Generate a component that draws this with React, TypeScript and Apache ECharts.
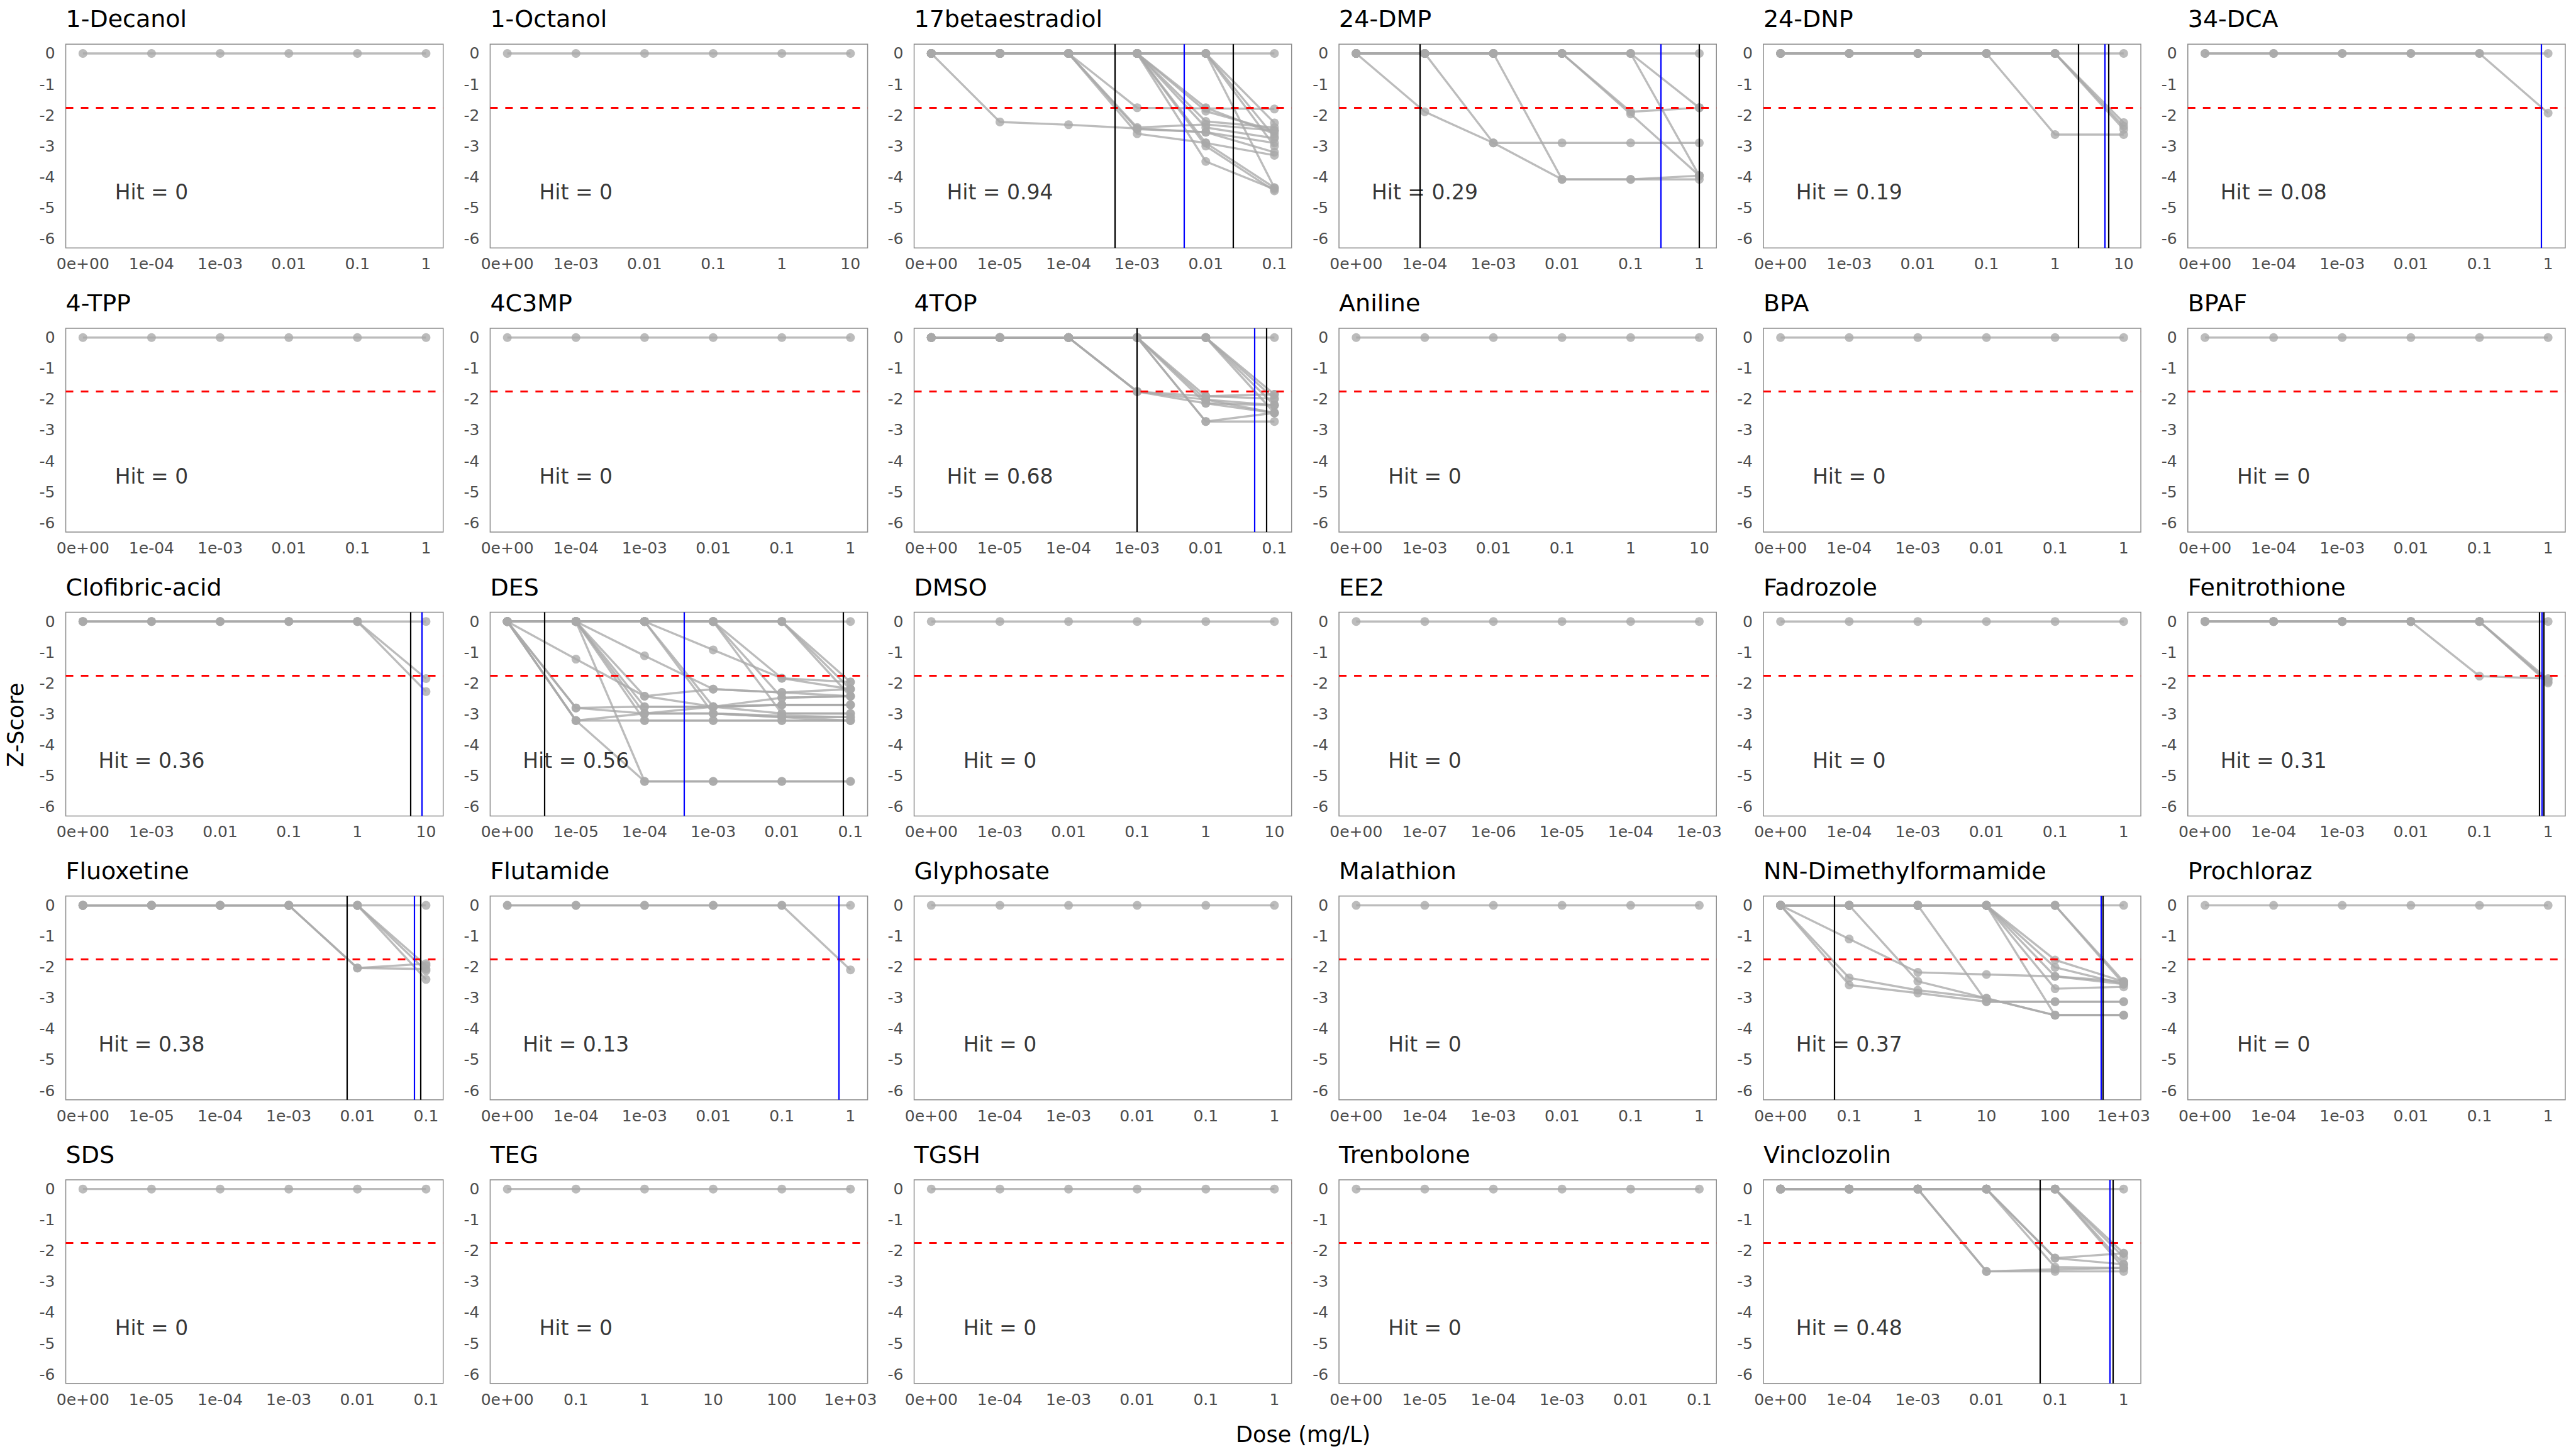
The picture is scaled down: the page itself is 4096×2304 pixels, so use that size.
import React, { useEffect, useRef } from "react";
import * as echarts from "echarts";

// ---------- tick label sets (dose axis, mg/L) ----------
const ticksA = ["0e+00", "1e-04", "1e-03", "0.01", "0.1", "1"];
const ticksB = ["0e+00", "1e-03", "0.01", "0.1", "1", "10"];
const ticksC = ["0e+00", "1e-05", "1e-04", "1e-03", "0.01", "0.1"];
const ticksD = ["0e+00", "1e-07", "1e-06", "1e-05", "1e-04", "1e-03"];
const ticksE = ["0e+00", "0.1", "1", "10", "100", "1e+03"];
const yTicks = [0, -1, -2, -3, -4, -5, -6];

// ---------- panels ----------
const chemicals = [
  "1-Decanol", "1-Octanol", "17betaestradiol", "24-DMP", "24-DNP", "34-DCA",
  "4-TPP", "4C3MP", "4TOP", "Aniline", "BPA", "BPAF",
  "Clofibric-acid", "DES", "DMSO", "EE2", "Fadrozole", "Fenitrothione",
  "Fluoxetine", "Flutamide", "Glyphosate", "Malathion", "NN-Dimethylformamide", "Prochloraz",
  "SDS", "TEG", "TGSH", "Trenbolone", "Vinclozolin",
];
const chemicalTicks = [
  ticksA, ticksB, ticksC, ticksA, ticksB, ticksA,
  ticksA, ticksA, ticksC, ticksB, ticksA, ticksA,
  ticksB, ticksC, ticksB, ticksD, ticksA, ticksA,
  ticksC, ticksA, ticksA, ticksA, ticksE, ticksA,
  ticksC, ticksE, ticksA, ticksC, ticksA,
];
const hitRates = [
  "0", "0", "0.94", "0.29", "0.19", "0.08",
  "0", "0", "0.68", "0", "0", "0",
  "0.36", "0.56", "0", "0", "0", "0.31",
  "0.38", "0.13", "0", "0", "0.37", "0",
  "0", "0", "0", "0", "0.48",
];
const zThreshold = -1.75;

// black lines (BMD lower / upper), dose in mg/L
const boundDoses: number[][] = [
  [], [], [4.8e-4, 0.025], [8.5e-5, 1], [2.2, 6.0], [],
  [], [], [1e-3, 0.075], [], [], [],
  [5.9], [3.5e-6, 0.078], [], [], [], [0.74, 0.87],
  [7.1e-3, 0.084], [], [], [], [0.06, 500], [],
  [], [], [], [], [0.06, 0.69],
];
// blue line (BMD), dose in mg/L
const bmdDoses: (number | null)[] = [
  null, null, 4.8e-3, 0.275, 5.2, 0.8,
  null, null, 0.051, null, null, null,
  8.7, 3.8e-4, null, null, null, 0.81,
  0.068, 0.68, null, null, 465, null,
  null, null, null, null, 0.63,
];

// ---------- replicate Z-score curves (6 dose levels each) ----------
const flatZero = [0, 0, 0, 0, 0, 0];

const zEstradiol = [
  [0, -2.22, -2.31, -2.43, -2.55, -2.9],
  [0, 0, 0, -1.76, -1.78, -1.8],
  [0, 0, 0, -2.45, -2.55, -3.2],
  [0, 0, 0, -2.6, -2.9, -4.35],
  [0, 0, 0, -2.4, -2.3, -2.5],
  [0, 0, 0, 0, -1.76, -2.6],
  [0, 0, 0, 0, -2.2, -2.4],
  [0, 0, 0, 0, -2.9, -3.3],
  [0, 0, 0, 0, -3.0, -4.45],
  [0, 0, 0, 0, -3.5, -4.4],
  [0, 0, 0, 0, -2.4, -2.75],
  [0, 0, 0, 0, -1.87, -2.5],
  [0, 0, 0, 0, 0, -2.25],
  [0, 0, 0, 0, 0, -3.0],
  [0, 0, 0, 0, 0, -4.35],
  [0, 0, 0, 0, 0, -2.7],
  flatZero,
];
const zDMP = [
  [0, -1.89, -2.9, -4.08, -4.08, -3.96],
  [0, 0, -2.9, -2.9, -2.9, -2.9],
  [0, 0, 0, -4.08, -4.08, -4.08],
  [0, 0, 0, 0, -1.89, -1.76],
  [0, 0, 0, 0, -1.96, -3.96],
  [0, 0, 0, 0, 0, -1.76],
  [0, 0, 0, 0, 0, -3.96],
  flatZero,
];
const zDNP = [
  [0, 0, 0, 0, -2.63, -2.63],
  [0, 0, 0, 0, 0, -2.24],
  [0, 0, 0, 0, 0, -2.36],
  [0, 0, 0, 0, 0, -2.46],
  flatZero,
];
const zDCA = [[0, 0, 0, 0, 0, -1.93], flatZero];
const zTOP = [
  [0, 0, 0, -1.75, -1.9, -1.84],
  [0, 0, 0, -1.75, -2.13, -2.19],
  [0, 0, 0, -1.75, -2.01, -2.44],
  [0, 0, 0, 0, -1.9, -1.98],
  [0, 0, 0, 0, -2.01, -2.19],
  [0, 0, 0, 0, -2.72, -2.72],
  [0, 0, 0, 0, -2.72, -2.44],
  [0, 0, 0, 0, -2.13, -2.44],
  [0, 0, 0, 0, 0, -1.84],
  [0, 0, 0, 0, 0, -1.98],
  [0, 0, 0, 0, 0, -2.19],
  [0, 0, 0, 0, 0, -2.44],
  flatZero,
];
const zClofibric = [[0, 0, 0, 0, 0, -1.85], [0, 0, 0, 0, 0, -2.27], flatZero];
const zDES = [
  [0, -1.22, -2.42, -2.76, -2.7, -2.7],
  [0, -2.8, -2.76, -2.76, -2.7, -2.7],
  [0, -3.21, -3.21, -3.21, -3.21, -3.21],
  [0, -3.21, -5.18, -5.18, -5.18, -5.18],
  [0, -2.8, -2.98, -2.98, -3.05, -3.1],
  [0, -3.21, -2.98, -2.76, -2.47, -2.42],
  [0, 0, -5.18, -5.18, -5.18, -5.18],
  [0, 0, -2.42, -2.19, -2.3, -2.42],
  [0, 0, -2.76, -2.76, -2.98, -2.98],
  [0, 0, -3.21, -3.21, -3.21, -3.21],
  [0, 0, -2.98, -2.98, -3.1, -3.1],
  [0, 0, -1.11, -2.19, -2.3, -2.19],
  [0, 0, 0, -0.92, -1.84, -1.96],
  [0, 0, 0, -2.76, -2.7, -2.7],
  [0, 0, 0, -2.98, -3.1, -3.21],
  [0, 0, 0, 0, -1.84, -2.19],
  [0, 0, 0, 0, -2.98, -2.98],
  [0, 0, 0, 0, -2.47, -2.42],
  [0, 0, 0, 0, 0, -1.96],
  [0, 0, 0, 0, 0, -2.19],
  [0, 0, 0, 0, 0, -2.42],
  flatZero,
];
const zFenitrothione = [
  [0, 0, 0, 0, -1.77, -1.85],
  [0, 0, 0, 0, 0, -1.88],
  [0, 0, 0, 0, 0, -1.95],
  [0, 0, 0, 0, 0, -1.99],
  flatZero,
];
const zFluoxetine = [
  [0, 0, 0, 0, -2.03, -1.89],
  [0, 0, 0, 0, -2.03, -2.06],
  [0, 0, 0, 0, 0, -1.95],
  [0, 0, 0, 0, 0, -2.12],
  [0, 0, 0, 0, 0, -2.4],
  flatZero,
];
const zFlutamide = [[0, 0, 0, 0, 0, -2.09], flatZero];
const zDMF = [
  [0, -1.09, -2.17, -2.24, -2.3, -2.47],
  [0, -2.35, -2.75, -3.01, -3.56, -3.56],
  [0, -2.58, -2.84, -3.12, -3.12, -3.12],
  [0, 0, -2.46, -3.01, -3.56, -3.56],
  [0, 0, 0, -3.12, -3.12, -3.12],
  [0, 0, 0, 0, -1.77, -2.47],
  [0, 0, 0, 0, -2.01, -2.55],
  [0, 0, 0, 0, -2.3, -2.55],
  [0, 0, 0, 0, -2.7, -2.64],
  [0, 0, 0, 0, -3.56, -3.56],
  [0, 0, 0, 0, 0, -2.47],
  [0, 0, 0, 0, 0, -2.55],
  flatZero,
];
const zVinclozolin = [
  [0, 0, 0, -2.67, -2.67, -2.67],
  [0, 0, 0, -2.67, -2.6, -2.56],
  [0, 0, 0, 0, -2.24, -2.08],
  [0, 0, 0, 0, -2.24, -2.44],
  [0, 0, 0, 0, -2.53, -2.56],
  [0, 0, 0, 0, 0, -2.08],
  [0, 0, 0, 0, 0, -2.21],
  [0, 0, 0, 0, 0, -2.44],
  [0, 0, 0, 0, 0, -2.56],
  flatZero,
];
const zNone = [flatZero];

const chemicalCurves = [
  zNone, zNone, zEstradiol, zDMP, zDNP, zDCA,
  zNone, zNone, zTOP, zNone, zNone, zNone,
  zClofibric, zDES, zNone, zNone, zNone, zFenitrothione,
  zFluoxetine, zFlutamide, zNone, zNone, zDMF, zNone,
  zNone, zNone, zNone, zNone, zVinclozolin,
];

// ---------- layout (reference px scaled to the window) ----------
const S = 4096 / 5760;
const COL_LEFT = [147, 1096, 2044, 2994, 3943, 4892];
const ROW_TOP = [98.8, 734.1, 1369, 2003.7, 2638];
const PANEL_W = 844;
const PANEL_H = 455.5;
const FONT = "DejaVu Sans";
const GRAY = "rgba(169,169,169,0.78)";

function dosePosition(dose: number, ticks: string[]): number {
  const first = parseFloat(ticks[1]);
  return Math.log10(dose) - Math.log10(first) + 1;
}

function buildOption() {
  const grids: any[] = [];
  const xAxes: any[] = [];
  const yAxes: any[] = [];
  const series: any[] = [];
  const graphics: any[] = [];

  chemicals.forEach((name, i) => {
    const col = i % 6;
    const row = Math.floor(i / 6);
    const left = COL_LEFT[col] * S;
    const top = ROW_TOP[row] * S;
    const ticks = chemicalTicks[i];

    grids.push({
      left, top, width: PANEL_W * S, height: PANEL_H * S,
      show: true, borderColor: "#8c8c8c", borderWidth: 1.5,
      backgroundColor: "transparent", containLabel: false,
    });
    xAxes.push({
      type: "value", gridIndex: i, min: -0.25, max: 5.25,
      axisLine: { show: false }, axisTick: { show: false }, splitLine: { show: false },
      axisLabel: {
        customValues: [0, 1, 2, 3, 4, 5],
        formatter: (v: number) => ticks[Math.round(v)],
        fontSize: 25, color: "#4d4d4d", margin: 13, fontFamily: FONT,
      },
    });
    yAxes.push({
      type: "value", gridIndex: i, min: -6.3, max: 0.3,
      axisLine: { show: false }, axisTick: { show: false }, splitLine: { show: false },
      axisLabel: {
        customValues: yTicks,
        formatter: (v: number) => String(Math.round(v)),
        fontSize: 25, color: "#4d4d4d", margin: 17, fontFamily: FONT,
      },
    });

    chemicalCurves[i].forEach((z) => {
      series.push({
        type: "line", xAxisIndex: i, yAxisIndex: i,
        data: z.map((v, k) => [k, v]),
        symbol: "circle", symbolSize: 14, showSymbol: true, showAllSymbol: true,
        lineStyle: { color: GRAY, width: 3.4 },
        itemStyle: { color: GRAY },
        silent: true, z: 2, emphasis: { disabled: true },
      });
    });

    const marks: any[] = [
      { yAxis: zThreshold, lineStyle: { color: "#ff0000", type: [12, 12], width: 2.8 } },
    ];
    boundDoses[i].forEach((d) => {
      marks.push({ xAxis: dosePosition(d, ticks), lineStyle: { color: "#000000", type: "solid", width: 2.2 } });
    });
    const bmd = bmdDoses[i];
    if (bmd !== null) {
      marks.push({ xAxis: dosePosition(bmd, ticks), lineStyle: { color: "#0000ff", type: "solid", width: 2.2 } });
    }

    series.push({
      type: "scatter", xAxisIndex: i, yAxisIndex: i,
      data: [[1, -4.5]], symbolSize: 0.1,
      itemStyle: { color: "transparent" },
      label: {
        show: true, position: "inside", formatter: `Hit = ${hitRates[i]}`,
        fontSize: 33, color: "#000000", fontFamily: FONT,
      },
      markLine: {
        symbol: ["none", "none"], silent: true, label: { show: false },
        emphasis: { disabled: true }, data: marks,
      },
      silent: true, z: 4,
    });

    graphics.push({
      type: "text", x: left, y: top - 39.8,
      style: { text: name, fontSize: 38, fontFamily: FONT, fill: "#000000", align: "left", verticalAlign: "middle" },
      silent: true,
    });
  });

  graphics.push({
    type: "text", x: 25, y: 1621 * S, rotation: Math.PI / 2,
    style: { text: "Z-Score", fontSize: 35, fontFamily: FONT, fill: "#000000", align: "center", verticalAlign: "middle" },
    silent: true,
  });
  graphics.push({
    type: "text", x: 2914 * S, y: 3207 * S,
    style: { text: "Dose (mg/L)", fontSize: 35, fontFamily: FONT, fill: "#000000", align: "center", verticalAlign: "middle" },
    silent: true,
  });

  return {
    animation: false,
    backgroundColor: "#ffffff",
    textStyle: { fontFamily: FONT },
    grid: grids,
    xAxis: xAxes,
    yAxis: yAxes,
    series,
    graphic: graphics,
  };
}

export default function App() {
  const ref = useRef<HTMLDivElement>(null);
  useEffect(() => {
    if (!ref.current) return;
    const chart = echarts.init(ref.current, undefined, { renderer: "svg" });
    chart.setOption(buildOption() as any);
    return () => chart.dispose();
  }, []);
  return (
    <div
      ref={ref}
      style={{ position: "absolute", left: 0, top: 0, width: 4096, height: 2304, background: "#fff" }}
    />
  );
}
